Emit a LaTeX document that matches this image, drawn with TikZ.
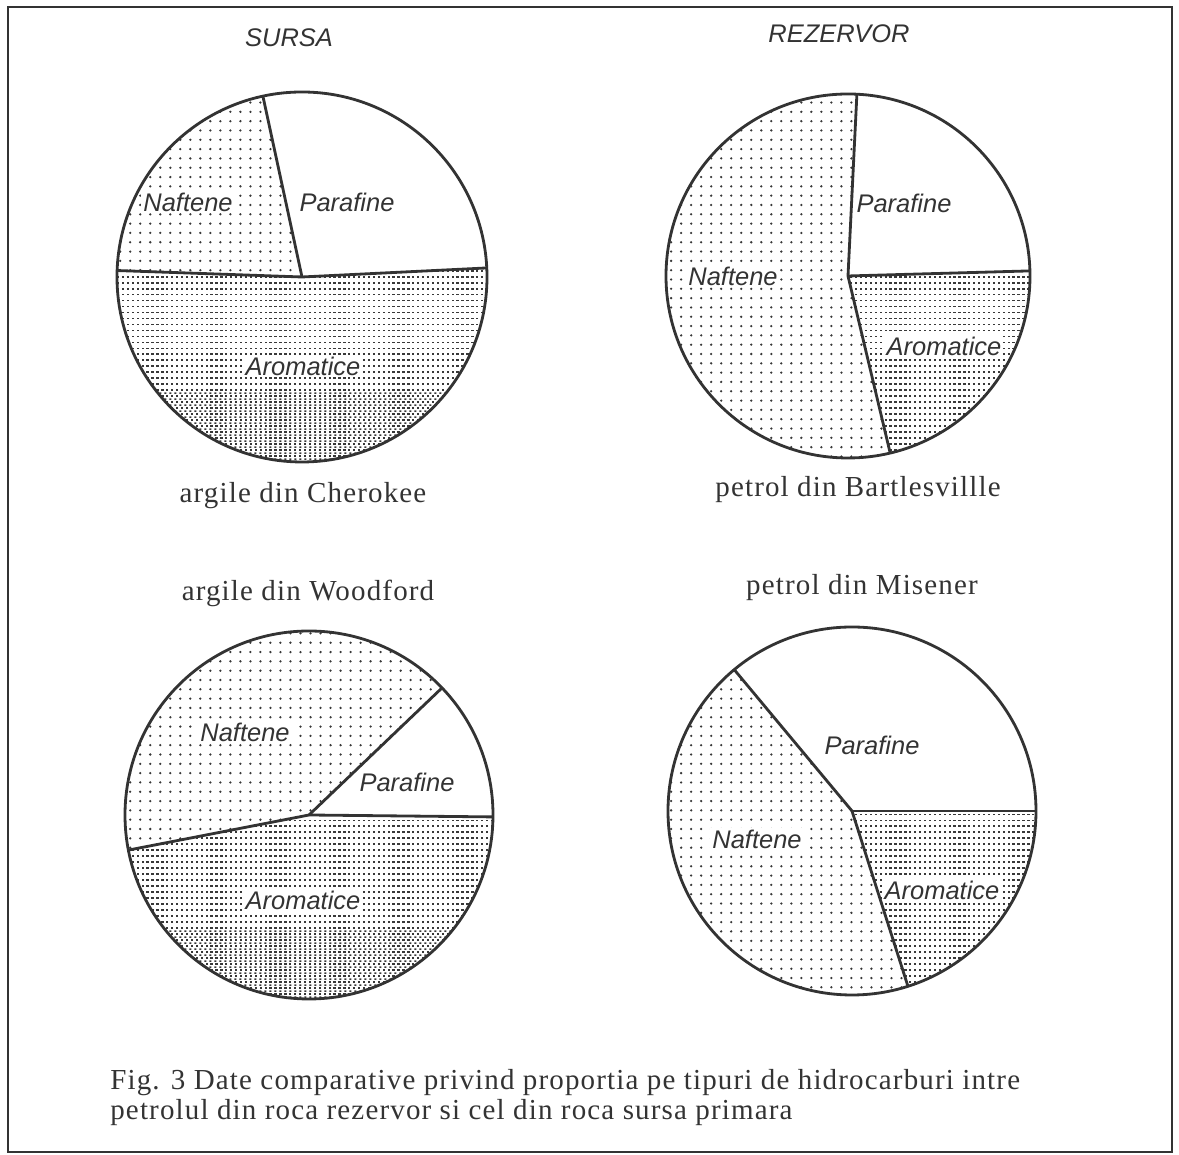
\documentclass[tikz,border=0pt]{standalone}
\usepackage{fontspec}
\usetikzlibrary{patterns}
\newfontfamily\capfont{Liberation Serif}[LetterSpace=4]
\newfontfamily\tagfont{Liberation Sans}
\definecolor{pInk}{HTML}{333333}
\definecolor{pDot}{HTML}{383838}

% dot screens of the two shaded fractions
\pgfdeclarepatternformonly{sparsedots}{\pgfpoint{-1pt}{-1pt}}{\pgfpoint{1pt}{1pt}}{\pgfpoint{5.7pt}{5.3pt}}{%
  \pgfpathcircle{\pgfpointorigin}{0.72pt}\pgfusepath{fill}}
\pgfdeclarepatternformonly{densedots}{\pgfpoint{-1pt}{-1pt}}{\pgfpoint{1pt}{1pt}}{\pgfpoint{2.8pt}{3.4pt}}{%
  \pgfpathrectangle{\pgfpoint{-0.65pt}{-0.5pt}}{\pgfpoint{1.3pt}{1pt}}\pgfusepath{fill}}
\pgfdeclarepatternformonly{fillerdots}{\pgfpoint{0pt}{0pt}}{\pgfpoint{2.8pt}{3.4pt}}{\pgfpoint{2.8pt}{3.4pt}}{%
  \pgfpathrectangle{\pgfpoint{0.8pt}{1.2pt}}{\pgfpoint{1.2pt}{0.9pt}}\pgfusepath{fill}}

\begin{document}
\begin{tikzpicture}[
  rim/.style={draw=pInk, line width=1.6pt},
  para/.style={fill=white},
  naft/.style={pattern=sparsedots, pattern color=pDot},
  arom/.style={pattern=densedots, pattern color=pDot},
  aromlow/.style={pattern=fillerdots, pattern color=pDot},
  tag/.style={font=\tagfont\itshape\fontsize{14.5}{16}\selectfont, text=pInk,
              fill=white, inner sep=1.2pt},
  head/.style={font=\tagfont\itshape\fontsize{14.5}{16}\selectfont, text=pInk, anchor=base},
  site/.style={font=\capfont\fontsize{16.5}{18}\selectfont, text=pInk, anchor=base},
  capt/.style={font=\capfont\fontsize{16.5}{18}\selectfont, text=pInk, anchor=base west, inner sep=0pt},
]
  \useasboundingbox (0,0) rectangle (23.58,23.10);
  \draw[pInk, line width=1.1pt] (0.16,0.06) rectangle (23.44,22.96);

  % Headings
  \node[head] (sursa) at (5.78,22.16) {SURSA};
  \node[head] (rez) at (16.78,22.24) {REZERVOR};

  % Centres of the four pies
  \coordinate (cher) at (6.04,17.56);
  \coordinate (bart) at (16.96,17.58);
  \coordinate (wood) at (6.18,6.80);
  \coordinate (mise) at (17.04,6.88);

  % argile din Cherokee
  \fill[para] (cher) -- ++(2.8:3.70) arc[start angle=2.8, end angle=102.2, radius=3.70] -- cycle;
  \fill[naft] (cher) -- ++(102.2:3.70) arc[start angle=102.2, end angle=178, radius=3.70] -- cycle;
  \fill[arom] (cher) -- ++(178:3.70) arc[start angle=178, end angle=362.8, radius=3.70] -- cycle;
  \begin{scope}
    \clip (cher) circle[radius=3.70];
    \fill[aromlow] ([shift={(-3.8,-3.8)}]cher) rectangle ([shift={(3.8,-2.3)}]cher);
  \end{scope}
  \foreach \a in {2.8,102.2,178} \draw[rim] (cher) -- ++(\a:3.70);
  \draw[rim] (cher) circle[radius=3.70];

  % petrol din Bartlesvillle
  \fill[para] (bart) -- ++(1.6:3.64) arc[start angle=1.6, end angle=87.2, radius=3.64] -- cycle;
  \fill[naft] (bart) -- ++(87.2:3.64) arc[start angle=87.2, end angle=283.4, radius=3.64] -- cycle;
  \fill[arom] (bart) -- ++(-76.6:3.64) arc[start angle=-76.6, end angle=1.6, radius=3.64] -- cycle;
  \foreach \a in {1.6,87.2,-76.6} \draw[rim] (bart) -- ++(\a:3.64);
  \draw[rim] (bart) circle[radius=3.64];

  % argile din Woodford
  \fill[para] (wood) -- ++(-0.6:3.68) arc[start angle=-0.6, end angle=43.7, radius=3.68] -- cycle;
  \fill[naft] (wood) -- ++(43.7:3.68) arc[start angle=43.7, end angle=191, radius=3.68] -- cycle;
  \fill[arom] (wood) -- ++(191:3.68) arc[start angle=191, end angle=359.4, radius=3.68] -- cycle;
  \begin{scope}
    \clip (wood) circle[radius=3.68];
    \fill[aromlow] ([shift={(-3.8,-3.8)}]wood) rectangle ([shift={(3.8,-2.3)}]wood);
  \end{scope}
  \foreach \a in {-0.6,43.7,191} \draw[rim] (wood) -- ++(\a:3.68);
  \draw[rim] (wood) circle[radius=3.68];

  % petrol din Misener
  \fill[para] (mise) -- ++(0:3.68) arc[start angle=0, end angle=129.8, radius=3.68] -- cycle;
  \fill[naft] (mise) -- ++(129.8:3.68) arc[start angle=129.8, end angle=287.7, radius=3.68] -- cycle;
  \fill[arom] (mise) -- ++(-72.3:3.68) arc[start angle=-72.3, end angle=0, radius=3.68] -- cycle;
  \foreach \a in {0,129.8,-72.3} \draw[rim] (mise) -- ++(\a:3.68);
  \draw[rim] (mise) circle[radius=3.68];

  % Fraction labels
  \node[tag] (cherN) at (3.76,19.06) {Naftene};
  \node[tag] (cherP) at (6.94,19.06) {Parafine};
  \node[tag] (cherA) at (6.06,15.78) {Aromatice};
  \node[tag] (bartP) at (18.08,19.04) {Parafine};
  \node[tag] (bartN) at (14.66,17.58) {Naftene};
  \node[tag] (bartA) at (18.88,16.18) {Aromatice};
  \node[tag] (woodN) at (4.90,8.46) {Naftene};
  \node[tag] (woodP) at (8.14,7.46) {Parafine};
  \node[tag] (woodA) at (6.06,5.10) {Aromatice};
  \node[tag] (miseP) at (17.44,8.20) {Parafine};
  \node[tag] (miseN) at (15.14,6.32) {Naftene};
  \node[tag] (miseA) at (18.84,5.30) {Aromatice};

  % Sample names
  \node[site] (cherT) at (6.06,13.04) {argile din Cherokee};
  \node[site] (bartT) at (17.16,13.16) {petrol din Bartlesvillle};
  \node[site] (woodT) at (6.16,11.08) {argile din Woodford};
  \node[site] (miseT) at (17.24,11.20) {petrol din Misener};

  % Caption
  \node[capt] (cap1) at (2.20,1.30) {Fig. 3 Date comparative privind proportia pe tipuri de hidrocarburi intre};
  \node[capt] (cap2) at (2.20,0.70) {petrolul din roca rezervor si cel din roca sursa primara};
\end{tikzpicture}
\end{document}
